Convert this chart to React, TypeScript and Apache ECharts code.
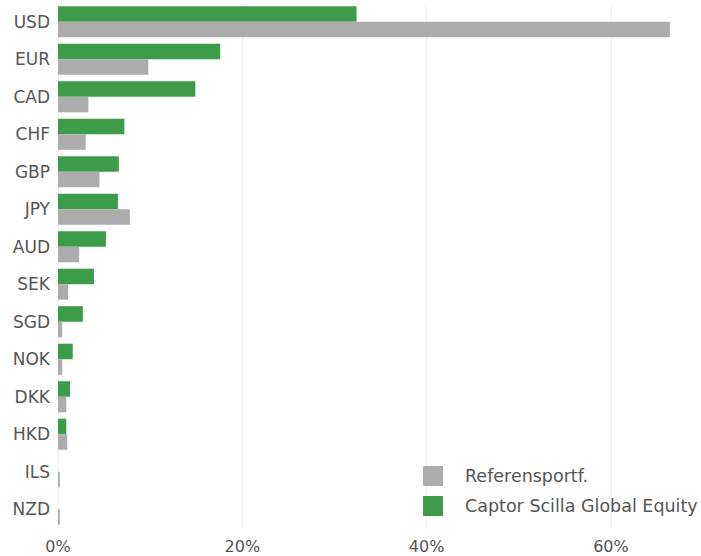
import React, { useEffect, useRef } from "react";
import * as echarts from "echarts";

const categories = ["USD", "EUR", "CAD", "CHF", "GBP", "JPY", "AUD", "SEK", "SGD", "NOK", "DKK", "HKD", "ILS", "NZD"];
const captorValues = [32.4, 17.6, 14.9, 7.2, 6.6, 6.5, 5.2, 3.9, 2.7, 1.6, 1.3, 0.9, 0, 0];
const referenceValues = [66.4, 9.8, 3.3, 3.0, 4.5, 7.8, 2.3, 1.1, 0.45, 0.45, 0.9, 1.0, 0.2, 0.2];
const xTicks = [0, 20, 40, 60];
const seriesNames = ["Referensportf.", "Captor Scilla Global Equity"];

const FONT = "DejaVu Sans";
const TEXT = "#555555";

export default function App() {
  const ref = useRef<HTMLDivElement>(null);
  useEffect(() => {
    if (!ref.current) return;
    const chart = echarts.init(ref.current, null, { renderer: "svg" });
    chart.setOption({
      animation: false,
      backgroundColor: "#ffffff",
      textStyle: { fontFamily: FONT },
      grid: { left: 58, width: 663.5, top: 3, bottom: 28, containLabel: false, outerBoundsMode: "none" },
      legend: {
        orient: "vertical",
        left: 418,
        top: 461,
        itemWidth: 20,
        itemHeight: 20,
        itemGap: 10,
        icon: "rect",
        data: seriesNames,
        textStyle: { color: TEXT, fontSize: 17.5, fontFamily: FONT, padding: [0, 0, 0, 17] },
      },
      xAxis: {
        type: "value",
        min: 0,
        max: 72,
        interval: 20,
        axisLine: { show: false },
        axisTick: { show: false },
        splitLine: { lineStyle: { color: "#efefef", width: 1 } },
        axisLabel: {
          color: TEXT,
          fontSize: 16,
          fontFamily: FONT,
          margin: 10,
          formatter: (v: number) => (xTicks.includes(v) ? v + "%" : ""),
        },
      },
      yAxis: {
        type: "category",
        inverse: true,
        data: categories,
        axisLine: { show: false },
        axisTick: { show: false },
        axisLabel: { color: TEXT, fontSize: 17, fontFamily: FONT, margin: 8 },
      },
      series: [
        {
          name: seriesNames[1],
          type: "bar",
          data: captorValues,
          barGap: "0%",
          barCategoryGap: "17%",
          itemStyle: { color: "#3d9c4a" },
        },
        {
          name: seriesNames[0],
          type: "bar",
          data: referenceValues,
          barGap: "0%",
          barCategoryGap: "17%",
          itemStyle: { color: "#acacac" },
        },
      ],
    });
    return () => chart.dispose();
  }, []);
  return <div ref={ref} style={{ position: "absolute", left: 0, top: 0, width: 701, height: 556 }} />;
}
